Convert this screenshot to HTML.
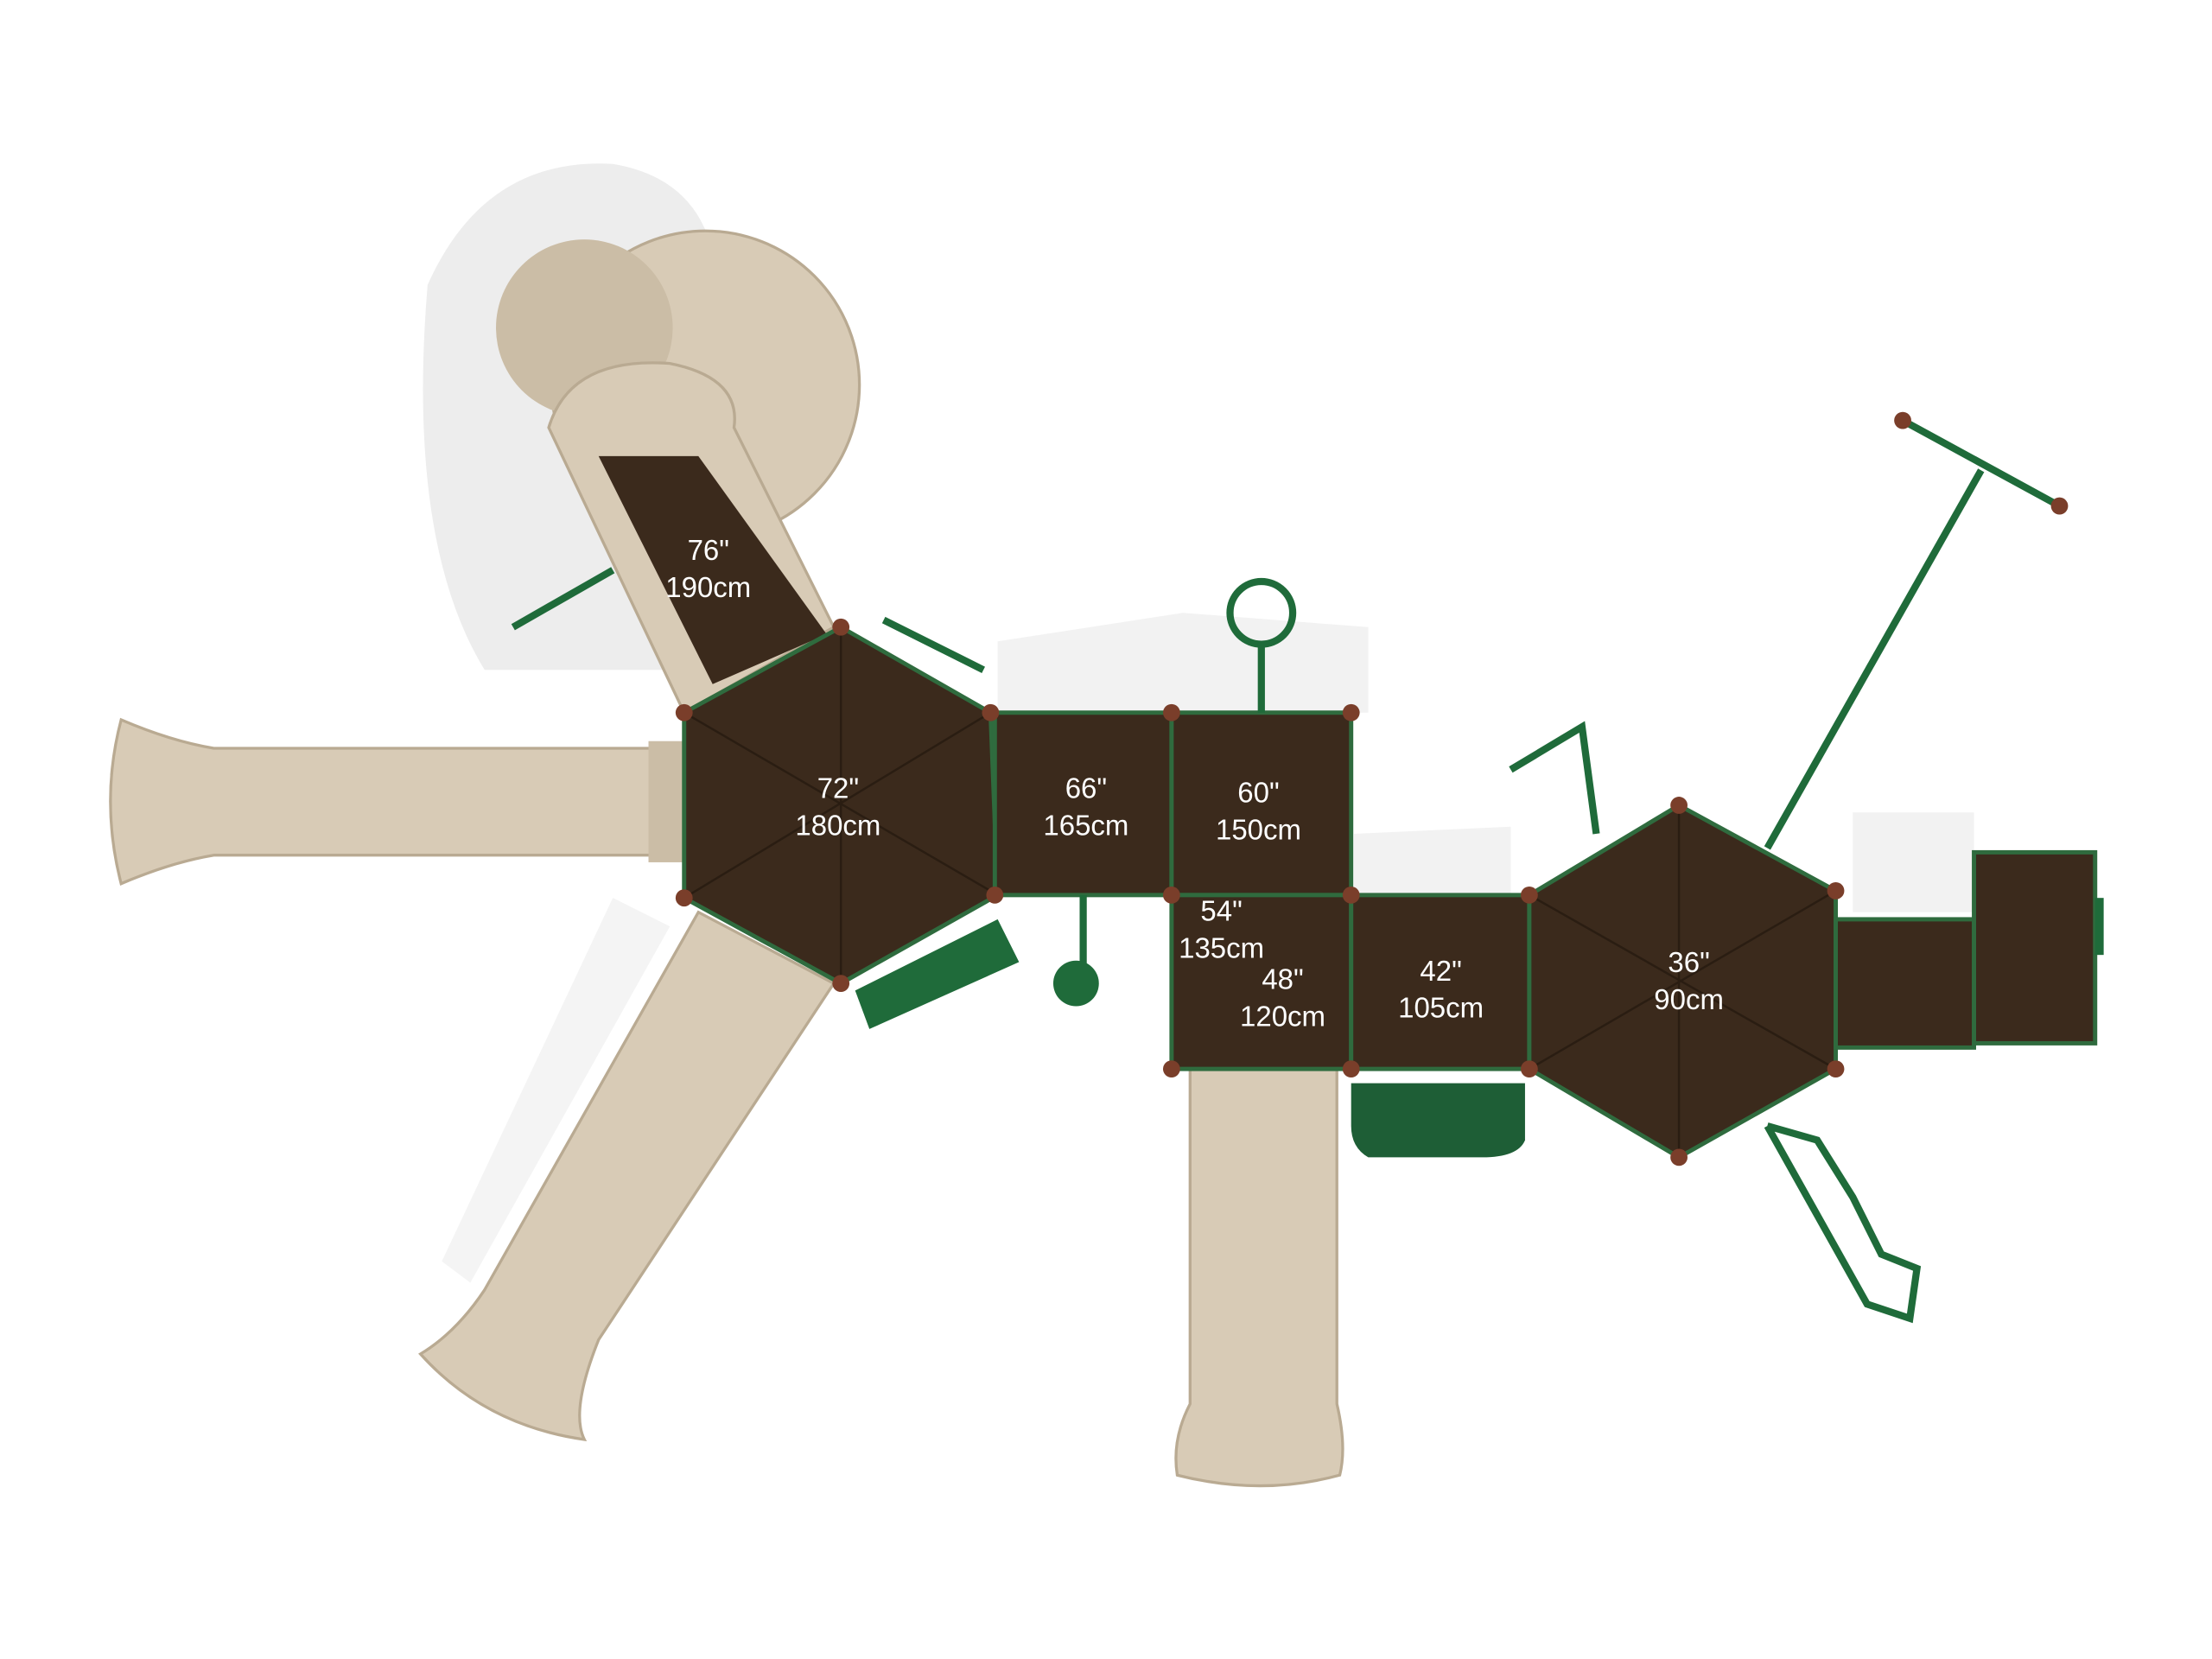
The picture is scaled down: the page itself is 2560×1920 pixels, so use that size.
<!DOCTYPE html>
<html><head><meta charset="utf-8"><style>
html,body{margin:0;padding:0;background:#fff;}
svg{display:block;}
text{font-family:"Liberation Sans",sans-serif;fill:#fff;font-size:20px;text-anchor:middle;}
</style></head><body>
<svg width="2560" height="1920" viewBox="0 0 1552 1164" xmlns="http://www.w3.org/2000/svg">
<rect width="1552" height="1164" fill="#fff"/>
<!-- shadows -->
<g fill="#ededed">
<path d="M300 200 Q340 110 430 115 Q520 130 500 250 L470 470 L340 470 Q285 380 300 200Z"/>
<path d="M700 450 L830 430 L960 440 L960 500 L700 500Z" opacity="0.7"/>
<path d="M950 585 L1060 580 L1060 628 L950 628Z" opacity="0.7"/>
<path d="M1300 570 L1385 570 L1385 640 L1300 640Z" opacity="0.7"/>
<path d="M430 630 L470 650 L330 900 L310 885Z" opacity="0.6"/>
</g>
<!-- left horizontal slide -->
<path d="M85 505 Q120 520 150 525 L470 525 L470 600 L150 600 Q120 605 85 620 Q70 562 85 505Z" fill="#d8cbb6" stroke="#b9aa92" stroke-width="2"/>
<rect x="455" y="520" width="30" height="85" fill="#cbbda6"/>
<!-- tube slide -->
<circle cx="495" cy="270" r="108" fill="#d8cbb6" stroke="#b9aa92" stroke-width="2"/>
<circle cx="410" cy="230" r="62" fill="#cbbda6"/>
<path d="M385 300 Q400 250 470 255 Q520 265 515 300 L585 440 L480 500 Z" fill="#d8cbb6" stroke="#b9aa92" stroke-width="2"/>
<path d="M420 320 L490 320 L580 445 L500 480 Z" fill="#3b2a1c"/>
<!-- bottom-left diagonal slide -->
<path d="M490 640 L585 690 L420 940 Q400 990 410 1010 Q340 1000 295 950 Q320 935 340 905 Z" fill="#d8cbb6" stroke="#b9aa92" stroke-width="2"/>
<!-- middle bottom slide -->
<path d="M835 750 L938 750 L938 985 Q945 1015 940 1035 Q885 1050 826 1035 Q822 1010 835 985 Z" fill="#d8cbb6" stroke="#b9aa92" stroke-width="2"/>
<!-- decks -->
<g fill="#3b2a1c" stroke="#2f6b3e" stroke-width="3">
<polygon points="480,500 590,440 695,500 700,628 590,690 480,630"/>
<rect x="698" y="500" width="124" height="128"/>
<rect x="822" y="500" width="126" height="128"/>
<rect x="822" y="628" width="126" height="122"/>
<rect x="948" y="628" width="125" height="122"/>
<polygon points="1073,628 1178,565 1288,625 1288,750 1178,812 1073,750"/>
<rect x="1288" y="645" width="97" height="90"/>
<rect x="1385" y="598" width="85" height="134"/>
</g>
<g stroke="#2a1d12" stroke-width="1.5">
<line x1="480" y1="500" x2="700" y2="628"/><line x1="695" y1="500" x2="480" y2="630"/><line x1="590" y1="440" x2="590" y2="690"/>
<line x1="1073" y1="628" x2="1288" y2="750"/><line x1="1288" y1="625" x2="1073" y2="750"/><line x1="1178" y1="565" x2="1178" y2="812"/>
</g>
<!-- green items -->
<g fill="none" stroke="#1f6b3a" stroke-width="5">
<path d="M1240 595 L1390 330"/><path d="M1335 295 L1445 355"/>
<path d="M1240 790 L1275 800 L1300 840 L1320 880 L1345 890 L1340 925 L1310 915 L1240 790"/>
<path d="M1060 540 L1110 510 L1120 585"/>
<path d="M360 440 L430 400"/>
<circle cx="885" cy="430" r="22"/><line x1="885" y1="450" x2="885" y2="500"/>
<line x1="760" y1="628" x2="760" y2="680"/>
<path d="M620 435 L690 470"/>
</g>
<circle cx="755" cy="690" r="16" fill="#1f6b3a"/>
<path d="M600 695 L700 645 L715 675 L610 722 Z" fill="#1f6b3a"/>
<path d="M948 760 L1070 760 L1070 800 Q1065 812 1040 812 L960 812 Q948 805 948 790 Z" fill="#1e5e36"/>
<rect x="1470" y="630" width="6" height="40" fill="#1f6b3a"/>
<!-- posts -->
<g fill="#7a3e2a">
<circle cx="480" cy="500" r="6"/><circle cx="590" cy="440" r="6"/><circle cx="695" cy="500" r="6"/><circle cx="698" cy="628" r="6"/><circle cx="590" cy="690" r="6"/><circle cx="480" cy="630" r="6"/>
<circle cx="822" cy="500" r="6"/><circle cx="948" cy="500" r="6"/><circle cx="822" cy="628" r="6"/><circle cx="948" cy="628" r="6"/><circle cx="822" cy="750" r="6"/><circle cx="948" cy="750" r="6"/><circle cx="1073" cy="628" r="6"/><circle cx="1073" cy="750" r="6"/>
<circle cx="1178" cy="565" r="6"/><circle cx="1288" cy="625" r="6"/><circle cx="1288" cy="750" r="6"/><circle cx="1178" cy="812" r="6"/>
<circle cx="1335" cy="295" r="6"/><circle cx="1445" cy="355" r="6"/>
</g>
<!-- labels -->
<text x="497" y="393">76"</text><text x="497" y="419">190cm</text>
<text x="588" y="560">72"</text><text x="588" y="586">180cm</text>
<text x="762" y="560">66"</text><text x="762" y="586">165cm</text>
<text x="883" y="563">60"</text><text x="883" y="589">150cm</text>
<text x="857" y="646">54"</text><text x="857" y="672">135cm</text>
<text x="900" y="694">48"</text><text x="900" y="720">120cm</text>
<text x="1011" y="688">42"</text><text x="1011" y="714">105cm</text>
<text x="1185" y="682">36"</text><text x="1185" y="708">90cm</text>
</svg>
</body></html>
